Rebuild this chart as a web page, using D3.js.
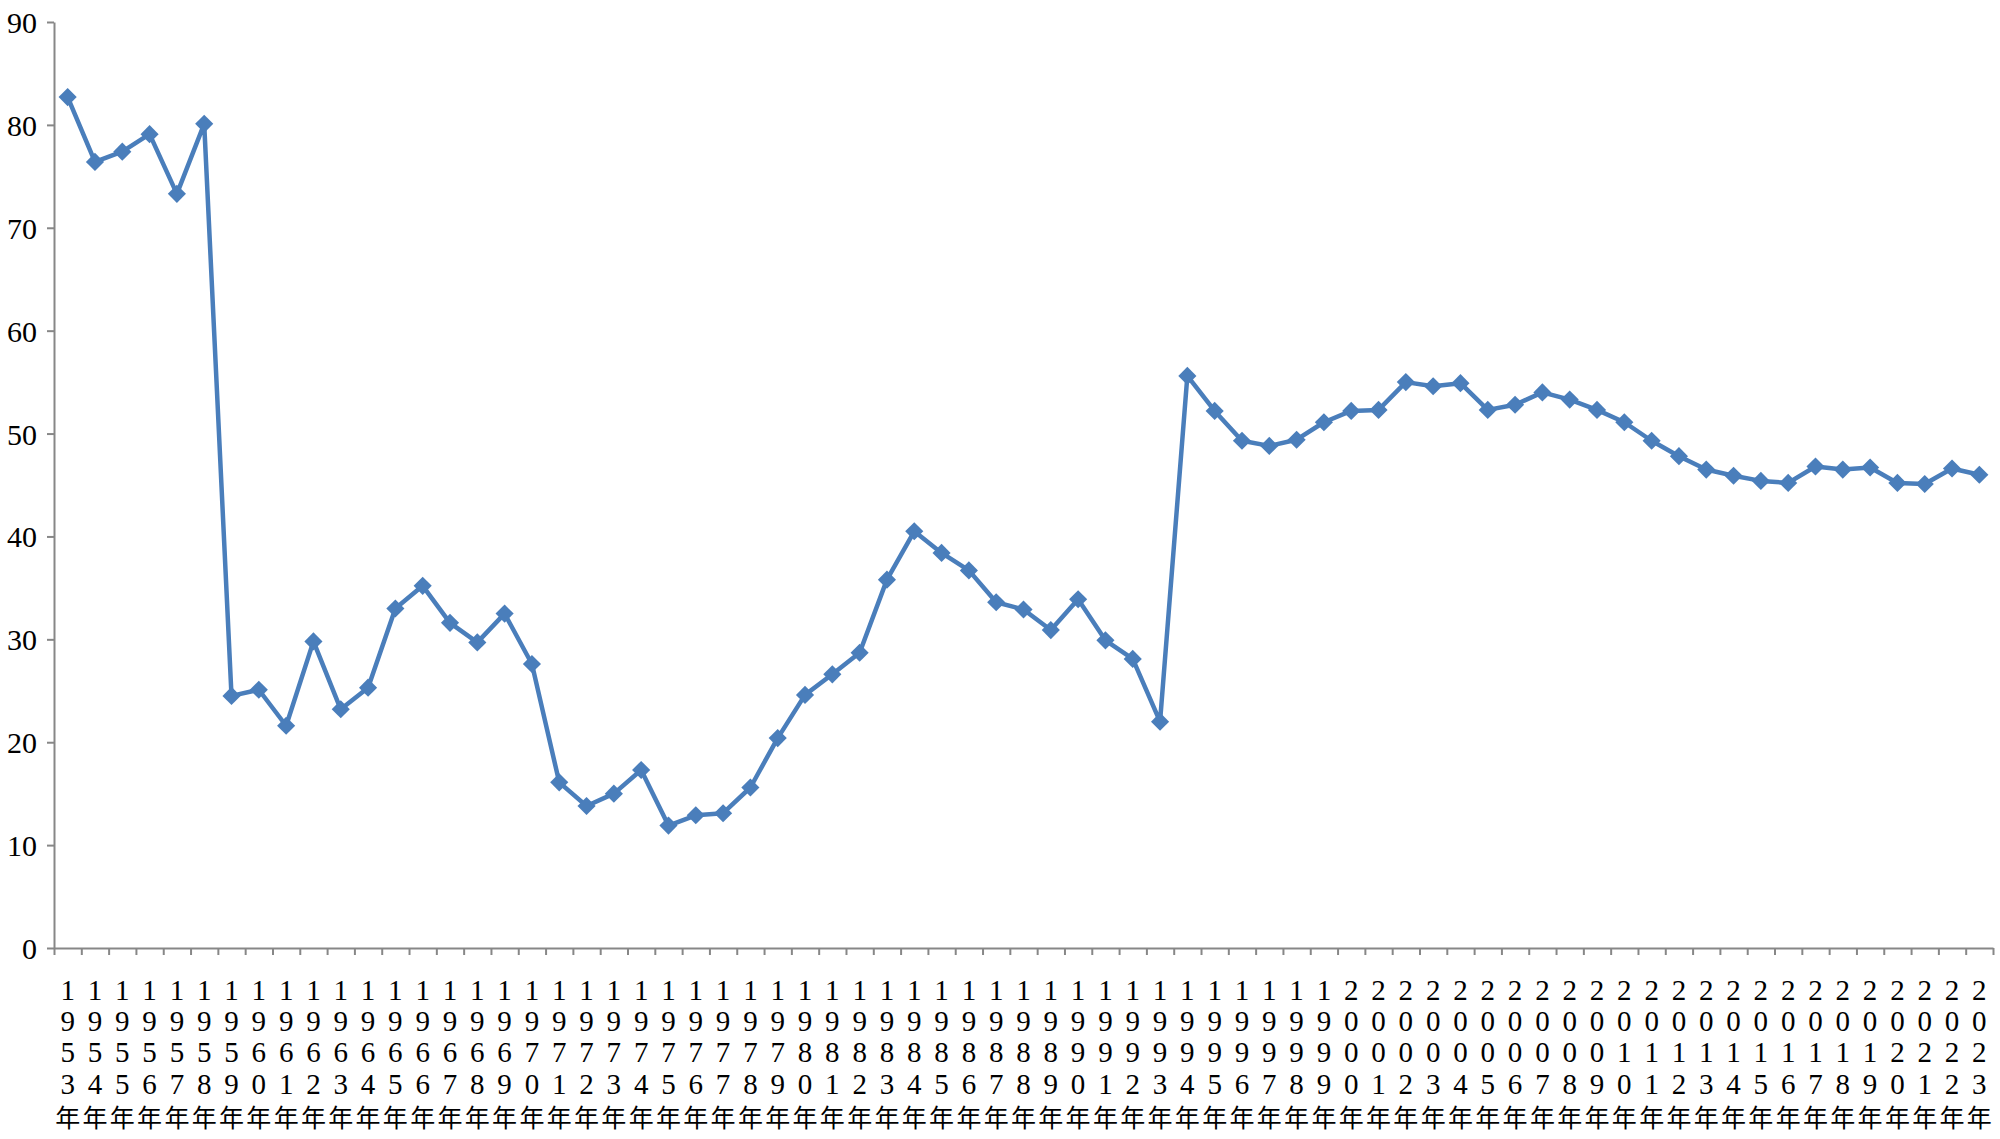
<!DOCTYPE html>
<meta charset="utf-8">
<html>
<head>
<style>
  body { margin: 0; background: #fff; }
  svg { display: block; }
  .axis path, .axis line { stroke: #878787; stroke-width: 2px; }
  .axis text { font-family: 'Liberation Serif', 'Times New Roman', serif; font-size: 30px; fill: #000; }
  .xlab text { font-size: 29px; fill: #000; }
  .xlab .d { font-family: 'Liberation Serif', 'Times New Roman', serif; }
  .xlab .n { font-family: 'Noto Sans CJK SC', sans-serif; font-size: 25px; }
</style>
</head>
<body>
<svg width="2000" height="1139"></svg>
<script src="https://cdnjs.cloudflare.com/ajax/libs/d3/7.8.5/d3.min.js"></script>
<script>
// years 1953..2023
var years = [1953,1954,1955,1956,1957,1958,1959,1960,1961,1962,1963,1964,1965,1966,1967,1968,1969,1970,
  1971,1972,1973,1974,1975,1976,1977,1978,1979,1980,1981,1982,1983,1984,1985,1986,1987,1988,1989,1990,
  1991,1992,1993,1994,1995,1996,1997,1998,1999,2000,2001,2002,2003,2004,2005,2006,2007,2008,2009,2010,
  2011,2012,2013,2014,2015,2016,2017,2018,2019,2020,2021,2022,2023];

var values = [82.7,76.4,77.4,79.1,73.3,80.1,24.5,25.1,21.6,29.8,23.2,25.3,33.0,35.2,31.6,29.7,32.5,27.6,
  16.1,13.8,15.0,17.3,11.9,12.9,13.1,15.6,20.4,24.6,26.6,28.7,35.8,40.5,38.4,36.7,33.6,32.9,30.9,33.9,
  29.9,28.1,22.0,55.6,52.2,49.3,48.8,49.4,51.1,52.2,52.3,55.0,54.6,54.9,52.3,52.8,54.0,53.3,52.3,51.1,
  49.3,47.8,46.5,45.9,45.4,45.2,46.8,46.5,46.7,45.2,45.1,46.6,46.0];

var yTicks = [0,10,20,30,40,50,60,70,80,90];

var svg = d3.select("svg");
var plotLeft = 54, plotRight = 1993, plotTop = 22, plotBottom = 948;
var blue = "#4a7ebb";

var x = d3.scaleBand().domain(years).range([plotLeft, plotRight]).padding(0);
var xEdge = d3.scaleLinear().domain([0, years.length]).range([plotLeft, plotRight]);
var y = d3.scaleLinear().domain([0, 90]).range([plotBottom, plotTop]);

// y axis
svg.append("g")
    .attr("class", "axis")
    .attr("transform", "translate(" + plotLeft + ",0)")
    .call(d3.axisLeft(y).tickValues(yTicks).tickSize(7).tickPadding(10).tickSizeOuter(0))
  .selectAll("text").attr("dy", "0.35em");

// x axis: ticks between categories
svg.append("g")
    .attr("class", "axis")
    .attr("transform", "translate(0," + plotBottom + ")")
    .call(d3.axisBottom(xEdge).tickValues(d3.range(years.length + 1)).tickSize(7).tickSizeOuter(0).tickFormat(""));

// stacked vertical labels: digits then 年
var rowY = [990, 1021, 1052.5, 1084];
var lab = svg.append("g").attr("class", "xlab")
  .selectAll("g").data(years).enter().append("g")
    .attr("transform", function(d) { return "translate(" + (x(d) + x.bandwidth() / 2) + ",0)"; });

lab.each(function(d) {
  var g = d3.select(this);
  String(d).split("").forEach(function(c, i) {
    g.append("text").attr("class", "d")
      .attr("y", rowY[i]).attr("dy", "0.33em")
      .attr("text-anchor", "middle").text(c);
  });
  g.append("text").attr("class", "n")
    .attr("y", 1116).attr("dominant-baseline", "central")
    .attr("text-anchor", "middle").text("年");
});

// line
var line = d3.line()
    .x(function(d, i) { return x(years[i]) + x.bandwidth() / 2; })
    .y(function(d) { return y(d); });

svg.append("path")
    .datum(values)
    .attr("fill", "none")
    .attr("stroke", blue)
    .attr("stroke-width", 4.5)
    .attr("stroke-linejoin", "round")
    .attr("d", line);

svg.append("g").selectAll("path")
    .data(values).enter().append("path")
    .attr("d", d3.symbol().type(d3.symbolDiamond2).size(210))
    .attr("transform", function(d, i) {
      return "translate(" + (x(years[i]) + x.bandwidth() / 2) + "," + y(d) + ")";
    })
    .attr("fill", blue);
</script>
</body>
</html>
